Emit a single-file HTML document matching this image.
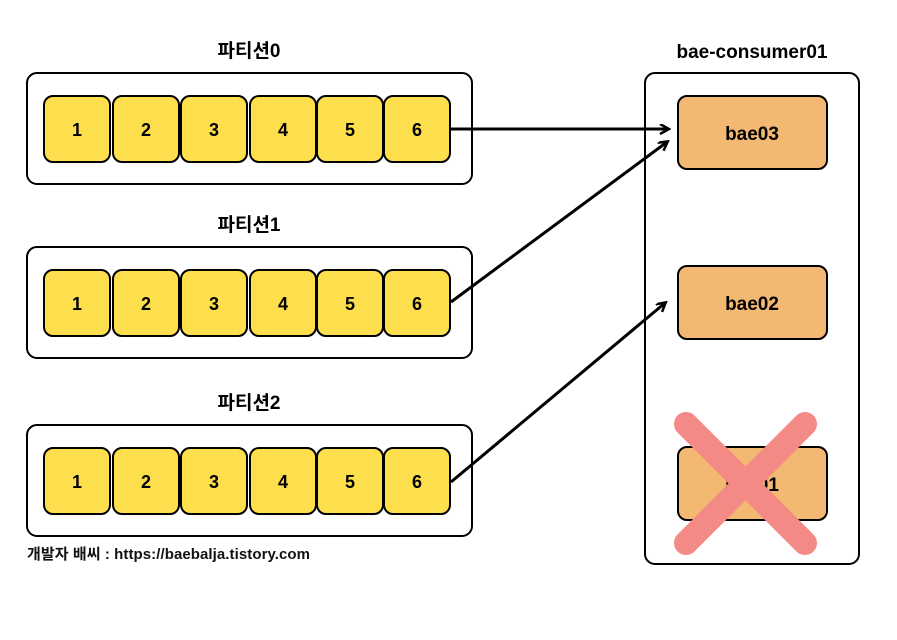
<!DOCTYPE html>
<html><head><meta charset="utf-8"><style>body{margin:0;background:#fff}svg{display:block}text{font-family:"Liberation Sans","Noto Sans CJK KR",sans-serif;font-weight:bold}</style></head><body>
<svg width="897" height="640" viewBox="0 0 897 640" xmlns="http://www.w3.org/2000/svg">
<defs><marker id="a" markerWidth="12" markerHeight="12" refX="9" refY="5" orient="auto" markerUnits="userSpaceOnUse"><path d="M1,0 L10,5 L1,10" fill="none" stroke="#000" stroke-width="2.5"/></marker></defs>
<g id="row">
<rect x="27" y="73" width="445" height="111" rx="10" fill="#fff" stroke="#000" stroke-width="2"/>
<g fill="#fdde4c" stroke="#000" stroke-width="2">
<rect x="44" y="96" width="66" height="66" rx="9"/><rect x="113" y="96" width="66" height="66" rx="9"/><rect x="181" y="96" width="66" height="66" rx="9"/><rect x="250" y="96" width="66" height="66" rx="9"/><rect x="317" y="96" width="66" height="66" rx="9"/><rect x="384" y="96" width="66" height="66" rx="9"/></g>
<g font-size="18" text-anchor="middle" fill="#000"><text x="77" y="136">1</text><text x="146" y="136">2</text><text x="214" y="136">3</text><text x="283" y="136">4</text><text x="350" y="136">5</text><text x="417" y="136">6</text></g>
</g>
<use href="#row" y="174"/><use href="#row" y="352"/>
<g font-size="19" text-anchor="middle"><text x="249" y="57">파티션0</text><text x="249" y="231">파티션1</text><text x="249" y="409">파티션2</text><text x="752" y="58">bae-consumer01</text></g>
<rect x="645" y="73" width="214" height="491" rx="10" fill="#fff" stroke="#000" stroke-width="2"/>
<g fill="#f3b872" stroke="#000" stroke-width="2"><rect x="678" y="96" width="149" height="73" rx="9"/><rect x="678" y="266" width="149" height="73" rx="9"/><rect x="678" y="447" width="149" height="73" rx="9"/></g>
<g font-size="19" text-anchor="middle"><text x="752" y="140">bae03</text><text x="752" y="310">bae02</text><text x="752" y="491">bae01</text></g>
<g stroke="#f48a85" stroke-width="24" stroke-linecap="round"><line x1="686" y1="424" x2="805" y2="543"/><line x1="805" y1="424" x2="686" y2="543"/></g>
<g stroke="#000" stroke-width="3" fill="none" marker-end="url(#a)"><line x1="451" y1="129" x2="668" y2="129"/><line x1="451" y1="302" x2="667" y2="142"/><line x1="451" y1="482" x2="665" y2="303"/></g>
<text x="27" y="559" font-size="15" textLength="283" fill="#111">개발자 배씨 : https://baebalja.tistory.com</text>
</svg>
</body></html>
